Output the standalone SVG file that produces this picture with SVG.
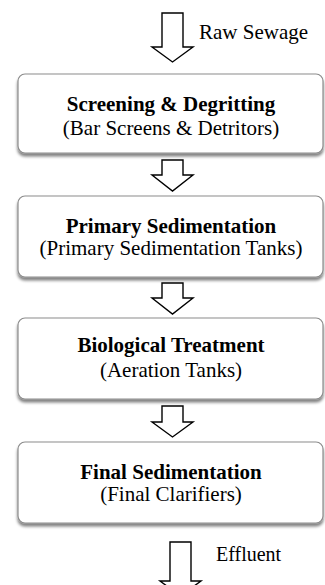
<svg xmlns="http://www.w3.org/2000/svg" width="325" height="585" viewBox="0 0 325 585">
<defs>
<filter id="sh" x="-10%" y="-20%" width="120%" height="150%">
<feGaussianBlur in="SourceAlpha" stdDeviation="1.5"/>
<feOffset dx="0" dy="2.5" result="b"/>
<feComponentTransfer><feFuncA type="linear" slope="0.5"/></feComponentTransfer>
<feMerge><feMergeNode/><feMergeNode in="SourceGraphic"/></feMerge>
</filter>
<style>
.box{fill:#fff;stroke:#8c8c8c;stroke-width:1.2}
.t{font-family:"Liberation Serif","Times New Roman",serif;font-size:21px;fill:#000;text-anchor:middle}
.b{font-weight:bold}
.lbl{font-family:"Liberation Serif","Times New Roman",serif;font-size:21px;fill:#000}
.arr{fill:#fff;stroke:#000;stroke-width:1.4;stroke-linejoin:miter}
</style>
</defs>
<rect width="325" height="585" fill="#fff"/>
<g id="connectors">
<path class="arr" d="M162,13 H183 V47 H193 L172.5,62 L152,47 H162 Z"/>
<path class="arr" d="M162,160 H183 V175 H193 L172.5,191 L152,175 H162 Z"/>
<path class="arr" d="M162,283 H183 V298 H193 L172.5,314 L152,298 H162 Z"/>
<path class="arr" d="M162,406 H183 V422 H193 L172.5,437 L152,422 H162 Z"/>
<path class="arr" d="M170,542 H191 V581 H201 L180.5,596 L160,581 H170 Z"/>
<text class="lbl" x="199" y="39">Raw Sewage</text>
<text class="lbl" x="216" y="561" style="font-size:20px">Effluent</text>
</g>
<g id="n1">
<rect class="box" x="18" y="74" width="305" height="79" rx="7" filter="url(#sh)"/>
<text class="t b" x="171" y="111">Screening &amp; Degritting</text>
<text class="t" x="171" y="135">(Bar Screens &amp; Detritors)</text>
</g>
<g id="n2">
<rect class="box" x="18" y="196" width="305" height="81" rx="7" filter="url(#sh)"/>
<text class="t b" x="171" y="233">Primary Sedimentation</text>
<text class="t" x="171" y="255">(Primary Sedimentation Tanks)</text>
</g>
<g id="n3">
<rect class="box" x="18" y="318" width="305" height="81" rx="7" filter="url(#sh)"/>
<text class="t b" x="171" y="352">Biological Treatment</text>
<text class="t" x="171" y="377">(Aeration Tanks)</text>
</g>
<g id="n4">
<rect class="box" x="18" y="442" width="305" height="81" rx="7" filter="url(#sh)"/>
<text class="t b" x="171" y="479">Final Sedimentation</text>
<text class="t" x="171" y="501">(Final Clarifiers)</text>
</g>
</svg>
